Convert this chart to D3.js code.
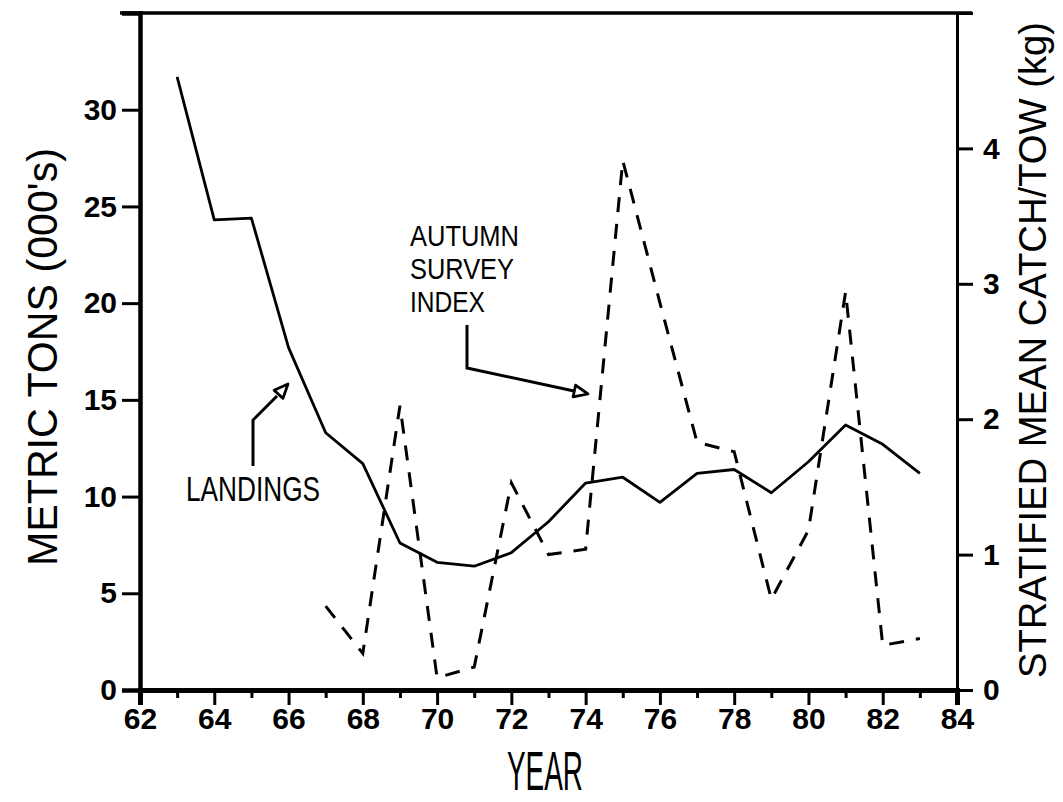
<!DOCTYPE html>
<html>
<head>
<meta charset="utf-8">
<script src="https://cdn.jsdelivr.net/npm/d3@7"></script>
<style>
  html, body { margin: 0; padding: 0; background: #fff; }
  svg { display: block; }
  text { font-family: "Liberation Sans", Arial, sans-serif; fill: #000; }
</style>
</head>
<body>
<svg id="chart" width="1063" height="802"></svg>
<script>
// ---- data ----
const landingYears = [63,64,65,66,67,68,69,70,71,72,73,74,75,76,77,78,79,80,81,82,83];
const landings     = [31.7,24.3,24.4,17.7,13.3,11.7,7.6,6.6,6.4,7.1,8.7,10.7,11.0,9.7,11.2,11.4,10.2,11.8,13.7,12.7,11.2];
const surveyYears  = [67,68,69,70,71,72,73,74,75,76,77,78,79,80,81,82,83];
const surveyIndex  = [0.62,0.27,2.10,0.09,0.17,1.53,1.00,1.04,3.91,2.86,1.83,1.76,0.67,1.18,2.94,0.33,0.38];
const xTicks       = [62,63,64,65,66,67,68,69,70,71,72,73,74,75,76,77,78,79,80,81,82,83,84];
const xTickLabels  = ["62","","64","","66","","68","","70","","72","","74","","76","","78","","80","","82","","84"];
const leftTicks    = [0,5,10,15,20,25,30,35];
const leftTickLabels  = ["0","5","10","15","20","25","30",""];
const rightTicks   = [0,1,2,3,4,5];
const rightTickLabels = ["0","1","2","3","4",""];
const leftTitle  = "METRIC TONS (000's)";
const rightTitle = "STRATIFIED MEAN CATCH/TOW (kg)";
const xTitle     = "YEAR";
const surveyLabel = ["AUTUMN","SURVEY","INDEX"];
const landingsLabel = "LANDINGS";

// ---- layout ----
const svg = d3.select("#chart");
const L = 140, R = 957, T = 13, B = 690;

const x  = d3.scaleLinear().domain([62,84]).range([L,R]);
const yL = d3.scaleLinear().domain([0,35]).range([B,T]);
const yR = d3.scaleLinear().domain([0,5]).range([B,T]);

// axes
const gL = svg.append("g").attr("transform",`translate(${L},0)`)
  .call(d3.axisLeft(yL).tickValues(leftTicks).tickSize(18).tickPadding(5)
        .tickFormat((d,i)=>leftTickLabels[i]));
const gR = svg.append("g").attr("transform",`translate(${R},0)`)
  .call(d3.axisRight(yR).tickValues(rightTicks).tickSize(16).tickPadding(10)
        .tickFormat((d,i)=>rightTickLabels[i]));
const gB = svg.append("g").attr("transform",`translate(0,${B})`)
  .call(d3.axisBottom(x).tickValues(xTicks).tickSize(15).tickPadding(3)
        .tickFormat((d,i)=>xTickLabels[i]));

[gL,gR,gB].forEach(g=>{
  g.attr("font-family",null).attr("font-size",null);
  g.selectAll(".tick line").attr("stroke","#000").attr("stroke-width",3);
  g.selectAll(".tick text").attr("font-size",30).attr("font-weight","bold").attr("fill","#000");
});
gL.select(".domain").attr("stroke","#000").attr("stroke-width",4.5);
gR.select(".domain").attr("stroke","#000").attr("stroke-width",3);
gB.select(".domain").attr("stroke","#000").attr("stroke-width",5);
// minor (odd-year) ticks shorter
gB.selectAll(".tick").filter(d=>d%2===1).select("line").attr("y2",8);
gR.selectAll(".tick text").attr("x",26);

// top border
svg.append("line").attr("x1",x(62)-20).attr("x2",x(84)+15)
  .attr("y1",yL(35)).attr("y2",yL(35)).attr("stroke","#000").attr("stroke-width",3.5);

// landings line
const lineL = d3.line().x((d,i)=>x(landingYears[i])).y(d=>yL(d));
svg.append("path").datum(landings).attr("d",lineL)
  .attr("fill","none").attr("stroke","#000").attr("stroke-width",2.8).attr("stroke-linejoin","round");

// survey index line (dashed)
const lineS = d3.line().x((d,i)=>x(surveyYears[i])).y(d=>yR(d));
svg.append("path").datum(surveyIndex).attr("d",lineS)
  .attr("fill","none").attr("stroke","#000").attr("stroke-width",3)
  .attr("stroke-dasharray","15 12");

// axis titles
svg.append("text").text(leftTitle)
  .attr("transform","translate(57,357) rotate(-90)")
  .attr("text-anchor","middle").attr("font-size",42)
  .attr("textLength",418).attr("lengthAdjust","spacingAndGlyphs");
svg.append("text").text(rightTitle)
  .attr("transform","translate(1046,350) rotate(-90)")
  .attr("text-anchor","middle").attr("font-size",38)
  .attr("textLength",656).attr("lengthAdjust","spacingAndGlyphs");
svg.append("text").text(xTitle)
  .attr("transform","translate(545,790) scale(1,1.2)")
  .attr("text-anchor","middle").attr("font-size",46)
  .attr("textLength",76).attr("lengthAdjust","spacingAndGlyphs");

// annotations
const ann = svg.append("g");
const annW = [109,104,75];
surveyLabel.forEach((s,i)=>{
  ann.append("text").text(s).attr("x",410).attr("y",246+i*33)
    .attr("font-size",29).attr("textLength",annW[i]).attr("lengthAdjust","spacingAndGlyphs");
});
ann.append("text").text(landingsLabel).attr("x",186).attr("y",501)
  .attr("font-size",35).attr("textLength",134).attr("lengthAdjust","spacingAndGlyphs");

function arrow(points){
  const p = points;
  ann.append("path").attr("d",d3.line()(p.slice(0,-1)))
    .attr("fill","none").attr("stroke","#000").attr("stroke-width",3);
  const a = p[p.length-2], b = p[p.length-1];
  const ang = Math.atan2(b[1]-a[1], b[0]-a[0]);
  const len = 14, w = 6;
  const bx = b[0]-len*Math.cos(ang), by = b[1]-len*Math.sin(ang);
  const tri = [[b[0],b[1]],[bx - w*Math.sin(ang), by + w*Math.cos(ang)],[bx + w*Math.sin(ang), by - w*Math.cos(ang)]];
  ann.append("path").attr("d",d3.line()(tri)+"Z")
    .attr("fill","#fff").attr("stroke","#000").attr("stroke-width",2.8).attr("stroke-linejoin","round");
}
arrow([[253,466],[253,420],[277,396],[288,384]]);
arrow([[467,325],[467,368],[574,391],[588,394]]);
</script>
</body>
</html>
